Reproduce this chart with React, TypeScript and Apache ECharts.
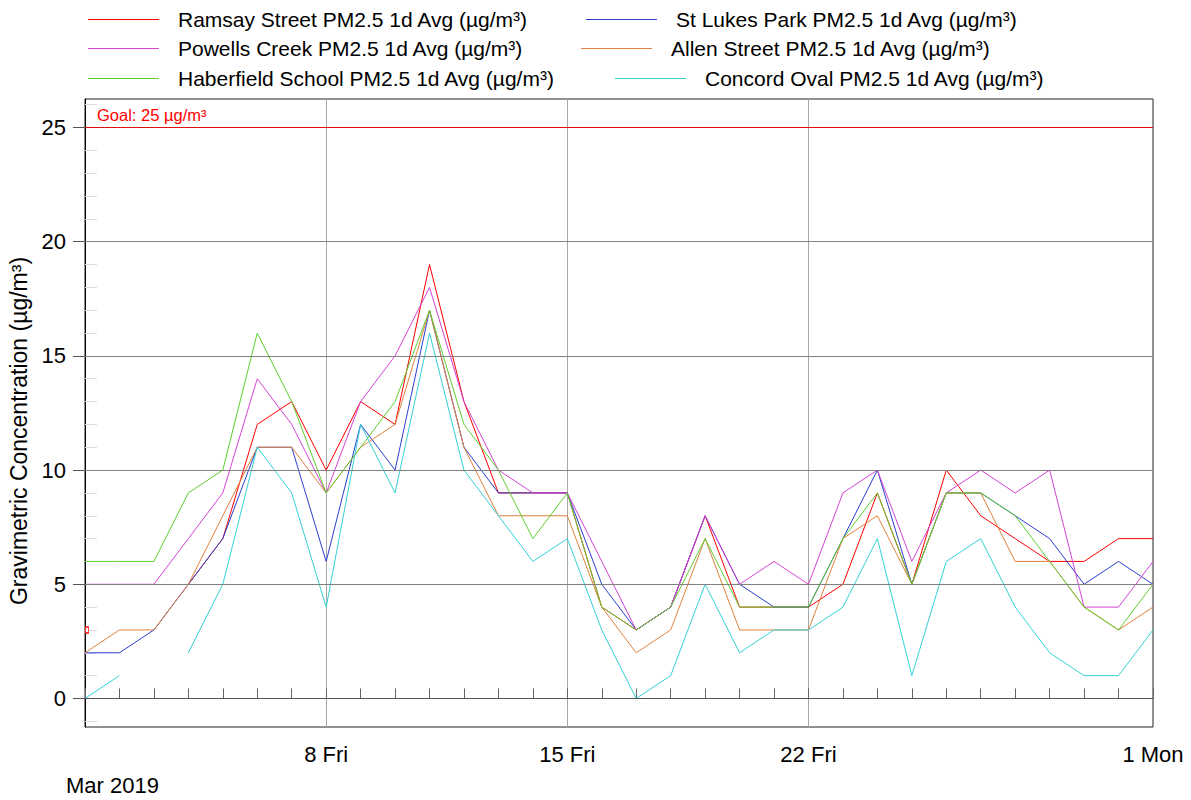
import React, { useEffect, useRef } from 'react';
import * as echarts from 'echarts';

const dates = [
  '2019-03-01', '2019-03-02', '2019-03-03', '2019-03-04', '2019-03-05', '2019-03-06', '2019-03-07', '2019-03-08',
  '2019-03-09', '2019-03-10', '2019-03-11', '2019-03-12', '2019-03-13', '2019-03-14', '2019-03-15', '2019-03-16',
  '2019-03-17', '2019-03-18', '2019-03-19', '2019-03-20', '2019-03-21', '2019-03-22', '2019-03-23', '2019-03-24',
  '2019-03-25', '2019-03-26', '2019-03-27', '2019-03-28', '2019-03-29', '2019-03-30', '2019-03-31', '2019-04-01',
];

const xLabelIndex = [7, 14, 21, 31];
const xLabelText = ['8 Fri', '15 Fri', '22 Fri', '1 Mon'];
const xMajorIndex = [7, 14, 21];
const monthLabel = 'Mar 2019';

const yTickValues = [0, 5, 10, 15, 20, 25];
const yMinorTicks = [-1, 1, 2, 3, 4, 6, 7, 8, 9, 11, 12, 13, 14, 16, 17, 18, 19, 21, 22, 23, 24, 26];
const yGridValues = [0, 5, 10, 15, 20];
const goalValue = 25;
const goalLabel = 'Goal: 25 µg/m³';
const yTitle = 'Gravimetric Concentration (µg/m³)';

const seriesNames = [
  'Ramsay Street PM2.5 1d Avg (µg/m³)',
  'St Lukes Park PM2.5 1d Avg (µg/m³)',
  'Powells Creek PM2.5 1d Avg (µg/m³)',
  'Allen Street PM2.5 1d Avg (µg/m³)',
  'Haberfield School PM2.5 1d Avg (µg/m³)',
  'Concord Oval PM2.5 1d Avg (µg/m³)',
];

const ramsay = [3, null, null, 5, 7, 12, 13, 10, 13, 12, 19, 13, 9, 9, 9, 4, 3, 4, 8, 4, 4, 4, 5, 9, 5, 10, 8, 7, 6, 6, 7, 7];
const stLukes = [2, 2, 3, 5, 7, 11, 11, 6, 12, 10, 17, 11, 9, 9, 9, 5, 3, 4, 8, 5, 4, 4, 7, 10, 5, 9, 9, 8, 7, 5, 6, 5];
const powells = [5, 5, 5, 7, 9, 14, 12, 9, 13, 15, 18, 13, 10, 9, 9, 6, 3, 4, 8, 5, 6, 5, 9, 10, 6, 9, 10, 9, 10, 4, 4, 6];
const allen = [2, 3, 3, 5, 8, 11, 11, 9, 11, 12, 17, 11, 8, 8, 8, 4, 2, 3, 7, 3, 3, 3, 7, 8, 5, 9, 9, 6, 6, 4, 3, 4];
const haberfield = [6, 6, 6, 9, 10, 16, 13, 9, 11, 13, 17, 12, 10, 7, 9, 4, 3, 4, 7, 4, 4, 4, 7, 9, 5, 9, 9, 8, 6, 4, 3, 5];
const concord = [0, 1, null, 2, 5, 11, 9, 4, 12, 9, 16, 10, 8, 6, 7, 3, 0, 1, 5, 2, 3, 3, 4, 7, 1, 6, 7, 4, 2, 1, 1, 3];

const seriesData = [ramsay, stLukes, powells, allen, haberfield, concord];
const seriesColors = ['#ff0000', '#2b3fd0', '#d444d4', '#e0803c', '#5fcf30', '#35d0d4'];

const FONT = '"Liberation Sans", Arial, Helvetica, sans-serif';

// legend item placement: left edge of the sample line, vertical centre of the row
const legendLayout = [
  { left: 88, cy: 19.5 },
  { left: 586, cy: 19.5 },
  { left: 88, cy: 48.5 },
  { left: 581, cy: 48.5 },
  { left: 88, cy: 78.5 },
  { left: 615, cy: 78.5 },
];
const LEGEND_LINE = 71;

function buildOption() {
  const series: any[] = seriesData.map((arr, i) => {
    const data: any[] = arr.map((v, k) => {
      if (i === 0 && k === 0) {
        return {
          value: v,
          symbol: 'rect',
          symbolSize: [3, 6],
          symbolOffset: [2, 0],
          itemStyle: { color: '#fff', borderColor: '#ff0000', borderWidth: 1 },
        };
      }
      return v;
    });
    return {
      name: seriesNames[i],
      type: 'line',
      data,
      symbol: 'none',
      showSymbol: i === 0,
      showAllSymbol: true,
      connectNulls: false,
      z: 3,
      color: seriesColors[i],
      itemStyle: { color: seriesColors[i] },
      lineStyle: { color: seriesColors[i], width: 1 },
      emphasis: { disabled: true },
    };
  });

  series.push({
    name: 'grid',
    type: 'line',
    data: [],
    z: 1,
    silent: true,
    markLine: {
      silent: true,
      symbol: ['none', 'none'],
      label: { show: false },
      emphasis: { disabled: true },
      data: [
        ...yGridValues.map((v) => ({ yAxis: v, lineStyle: { color: v === 0 ? '#555' : '#808080', width: 1, type: 'solid' } })),
        { yAxis: goalValue, lineStyle: { color: '#e01010', width: 1, type: 'solid' } },
      ],
    },
  });

  const legends = seriesNames.map((n, i) => ({
    data: [n],
    icon: 'none',
    left: legendLayout[i].left,
    top: legendLayout[i].cy - 10.5,
    padding: 0,
    itemWidth: LEGEND_LINE,
    itemHeight: 14,
    selectedMode: false,
    itemStyle: { opacity: 0 },
    lineStyle: { opacity: 0 },
    textStyle: { fontSize: 21, color: '#000', fontFamily: FONT, padding: [0, 0, 0, 14] },
  }));

  const legendLines = seriesNames.map((_n, i) => ({
    type: 'line',
    silent: true,
    shape: {
      x1: legendLayout[i].left,
      y1: legendLayout[i].cy,
      x2: legendLayout[i].left + LEGEND_LINE,
      y2: legendLayout[i].cy,
    },
    style: { stroke: seriesColors[i], lineWidth: 1 },
  }));

  return {
    animation: false,
    backgroundColor: '#fff',
    textStyle: { fontFamily: FONT },
    legend: legends,
    grid: {
      left: 85,
      right: 38,
      top: 99,
      bottom: 73,
      show: true,
      borderColor: '#222',
      borderWidth: 1,
      backgroundColor: 'transparent',
    },
    xAxis: [
      {
        type: 'category',
        data: dates,
        boundaryGap: false,
        position: 'bottom',
        axisLine: { show: true, lineStyle: { color: '#555', width: 1 } },
        axisTick: { show: true, inside: true, length: 10, interval: 0, lineStyle: { color: '#666' } },
        axisLabel: {
          show: true,
          interval: (idx: number) => xLabelIndex.includes(idx),
          formatter: (_v: string, idx: number) => {
            const k = xLabelIndex.indexOf(idx);
            return k >= 0 ? xLabelText[k] : '';
          },
          fontSize: 22,
          color: '#000',
          fontFamily: FONT,
          margin: 16,
        },
        splitLine: {
          show: true,
          interval: (idx: number) => xMajorIndex.includes(idx),
          lineStyle: { color: '#a8a8a8', width: 1 },
        },
      },
      {
        type: 'category',
        data: dates,
        boundaryGap: false,
        position: 'bottom',
        axisLine: { show: false },
        axisTick: {
          show: true,
          inside: false,
          length: 15,
          interval: (idx: number) => xMajorIndex.includes(idx),
          lineStyle: { color: '#a8a8a8' },
        },
        axisLabel: { show: false },
        splitLine: { show: false },
      },
    ],
    yAxis: [
      {
        type: 'value',
        min: -1.25,
        max: 26.25,
        position: 'left',
        axisLine: { show: true, lineStyle: { color: '#000', width: 1 } },
        axisTick: { show: true, inside: false, length: 12, customValues: yTickValues, lineStyle: { color: '#555' } },
        axisLabel: { show: true, customValues: yTickValues, fontSize: 22, color: '#000', fontFamily: FONT, margin: 19 },
        splitLine: { show: false },
      },
      {
        type: 'value',
        min: -1.25,
        max: 26.25,
        position: 'left',
        axisLine: { show: false },
        axisTick: { show: true, inside: true, length: 12, customValues: yMinorTicks, lineStyle: { color: '#dcdcdc' } },
        axisLabel: { show: false },
        splitLine: { show: false },
      },
    ],
    graphic: [
      ...legendLines,
      {
        type: 'text',
        x: 97,
        y: 115,
        silent: true,
        style: { text: goalLabel, fontSize: 16.5, fill: '#f00', fontFamily: FONT, verticalAlign: 'middle', align: 'left' },
      },
      {
        type: 'text',
        x: 19,
        y: 431,
        rotation: Math.PI / 2,
        silent: true,
        style: { text: yTitle, fontSize: 23, fill: '#000', fontFamily: FONT, verticalAlign: 'middle', align: 'center' },
      },
      {
        type: 'text',
        x: 66,
        y: 785,
        silent: true,
        style: { text: monthLabel, fontSize: 22, fill: '#000', fontFamily: FONT, verticalAlign: 'middle', align: 'left' },
      },
    ],
    series,
  };
}

export default function App() {
  const ref = useRef<HTMLDivElement>(null);
  useEffect(() => {
    if (!ref.current) return;
    const chart = echarts.init(ref.current, null, { renderer: 'svg' });
    chart.setOption(buildOption() as any);
    return () => chart.dispose();
  }, []);
  return (
    <div
      ref={ref}
      style={{ position: 'fixed', left: 0, top: 0, width: 1191, height: 800, background: '#fff' }}
    />
  );
}
